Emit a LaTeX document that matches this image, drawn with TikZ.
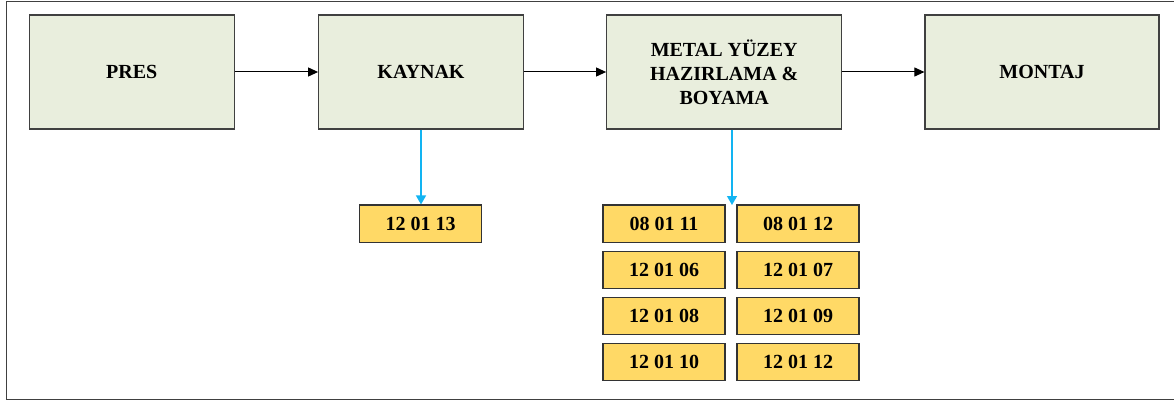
\documentclass[tikz,border=0pt]{standalone}
\usepackage{fontspec}
\setmainfont{Liberation Serif}
\usetikzlibrary{
arrows.meta,
positioning
}
\definecolor{StepGreen}{HTML}{E9EEDD}
\definecolor{CodeYellow}{HTML}{FFD966}
\definecolor{LinkBlue}{HTML}{12B4F2}
\definecolor{EdgeGray}{HTML}{404040}

\begin{document}
\begin{tikzpicture}[
    x=1pt,
    y=-1pt,
    font=\fontsize{20}{24}\selectfont\bfseries,
    >={Triangle[length=10pt,width=9pt]},
    procbox/.style={
        draw=EdgeGray,
        fill=StepGreen,
        line width=1.2pt,
        align=center,
        inner sep=0pt,
        minimum height=114pt
    },
    codebox/.style={
        draw=black!80,
        fill=CodeYellow,
        line width=1.2pt,
        inner sep=0pt,
        minimum width=122pt,
        minimum height=37.5pt
    }
]

% =====================================================
% FRAME
% =====================================================
\useasboundingbox (0,0) rectangle (1174,401);

\draw[
    EdgeGray,
    line width=1pt
]
(1180,2) -- (6,2) -- (6,399) -- (1180,399);

% =====================================================
% PROCESS STEPS
% =====================================================
\node[
    procbox,
    minimum width=205pt
]
(pres)
at (131.8,72)
{PRES};

\node[
    procbox,
    minimum width=204.6pt
]
(kaynak)
at (421,72)
{KAYNAK};

\node[
    procbox,
    minimum width=235pt
]
(boya)
at (724.2,72)
{METAL YÜZEY\\HAZIRLAMA \&\\BOYAMA};

\node[
    procbox,
    minimum width=234pt
]
(montaj)
at (1042,72)
{MONTAJ};

% flow arrows
\draw[
    ->,
    line width=1pt
]
(pres) -- (kaynak);

\draw[
    ->,
    line width=1pt
]
(kaynak) -- (boya);

\draw[
    ->,
    line width=1pt
]
(boya) -- (montaj);

% =====================================================
% WASTE CODES
% =====================================================
\node[codebox]
(k1)
at (420.5,223.8)
{12 01 13};

\foreach \i/\la/\lb in {
1/08 01 11/08 01 12,
2/12 01 06/12 01 07,
3/12 01 08/12 01 09,
4/12 01 10/12 01 12
}{
    % left column
    \node[codebox]
    (bl\i)
    at (664,{223.8+(\i-1)*46.1})
    {\la};

    % right column
    \node[codebox]
    (br\i)
    at (798,{223.8+(\i-1)*46.1})
    {\lb};
}

\coordinate (gap) at (732,205);

% code arrows
\draw[
    -{Triangle[length=9pt,width=10pt]},
    LinkBlue,
    line width=1.4pt
]
(kaynak) -- (kaynak |- k1.north);

\draw[
    -{Triangle[length=9pt,width=10pt]},
    LinkBlue,
    line width=1.4pt
]
(boya.south -| gap) -- (gap);

\end{tikzpicture}
\end{document}
